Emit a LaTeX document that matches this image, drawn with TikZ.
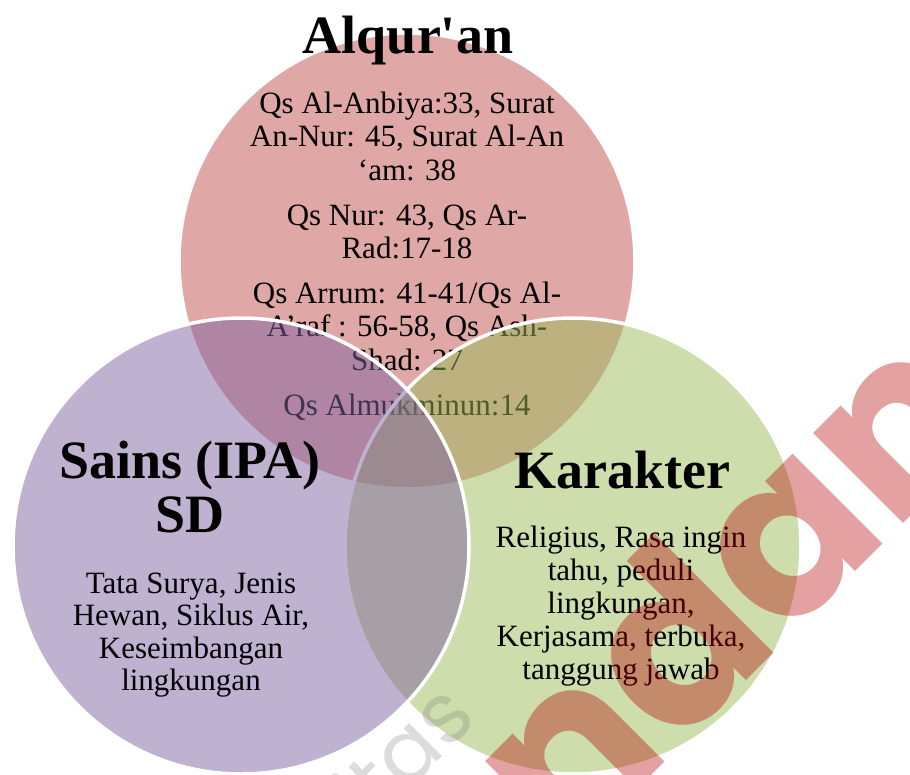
\documentclass[tikz,border=0pt]{standalone}
\usepackage{fontspec}
\setmainfont{Liberation Serif}
\newfontfamily\wmfont{Poppins}
\definecolor{cred}{HTML}{C0504D}
\definecolor{cpurple}{HTML}{8064A2}
\definecolor{cgreen}{HTML}{9BBB59}
\definecolor{wmred}{RGB}{180,0,0}
\newcommand\mylines[1]{\begin{tabular}[t]{@{}c@{}}#1\end{tabular}}
\tikzset{
  venn/.style={circle, minimum size=456pt, inner sep=0pt, draw=white, line width=3.5pt, fill opacity=0.5, draw opacity=1},
  bodytxt/.style={font=\fontsize{31}{33.5}\selectfont, anchor=base, inner sep=0pt, text=black},
  titletxt/.style={font=\fontsize{54}{54}\selectfont\bfseries, anchor=base, inner sep=0pt, text=black},
  wmark/.style={inner sep=0pt, rotate=45, anchor=base east}
}
\begin{document}
\begin{tikzpicture}[x=1pt,y=-1pt]
\useasboundingbox (0,0) rectangle (910,774);
\clip (0,0) rectangle (910,774);
% top circle and its texts
\node[venn, fill=cred] (ctop) at (407,261) {};
\node[bodytxt] (q1) at (407,113) {\mylines{Qs Al-Anbiya:33, Surat\\An-Nur: 45, Surat Al-An\\`am: 38}};
\node[bodytxt] (q2) at (407,225) {\mylines{Qs Nur: 43, Qs Ar-\\Rad:17-18}};
\node[bodytxt] (q3) at (407,303) {\mylines{Qs Arrum: 41-41/Qs Al-\\A'raf : 56-58, Qs Ash-\\Shad: 27}};
\node[bodytxt] (q4) at (407,415) {Qs Almukminun:14};
% right and left circles
\node[venn, fill=cgreen] (cright) at (573,546) {};
\node[venn, fill=cpurple] (cleft) at (241,546) {};
% titles
\node[titletxt] (tquran) at (408,53) {Alqur\textquotesingle an};
\node[titletxt] (tsains) at (190,478) {\mylines{Sains (IPA)\\SD}};
\node[titletxt] (tkar) at (622,488) {Karakter};
% bodies
\node[bodytxt, font=\fontsize{31}{32.5}\selectfont] (bsains) at (191,593) {\mylines{Tata Surya, Jenis\\Hewan, Siklus Air,\\Keseimbangan\\lingkungan}};
\node[bodytxt, font=\fontsize{31}{33}\selectfont] (bkar) at (621,547) {\mylines{Religius, Rasa ingin\\tahu, peduli\\lingkungan,\\Kerjasama, terbuka,\\tanggung jawab}};
% watermark
\node[wmark, font=\wmfont\fontsize{85}{85}\selectfont, text=black!50, text opacity=0.28] (wm1) at (479,720) {Universitas};
\node[wmark, font=\wmfont\bfseries\fontsize{228}{228}\selectfont, text=wmred, text opacity=0.37] (wm2) at (1002,425) {Pasundan};
\end{tikzpicture}
\end{document}
